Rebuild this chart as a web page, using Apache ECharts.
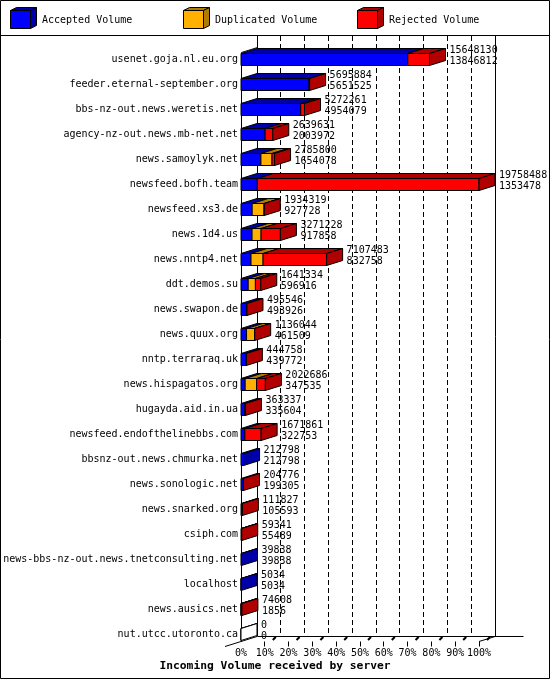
<!DOCTYPE html>
<html><head><meta charset="utf-8">
<script src="https://cdn.jsdelivr.net/npm/echarts@6.0.0/dist/echarts.min.js"></script>
<style>html,body{margin:0;padding:0;background:#fff}#c{width:550px;height:680px}</style>
</head><body><div id="c"></div><script>
const servers = ['usenet.goja.nl.eu.org','feeder.eternal-september.org','bbs-nz-out.news.weretis.net','agency-nz-out.news.mb-net.net','news.samoylyk.net','newsfeed.bofh.team','newsfeed.xs3.de','news.1d4.us','news.nntp4.net','ddt.demos.su','news.swapon.de','news.quux.org','nntp.terraraq.uk','news.hispagatos.org','hugayda.aid.in.ua','newsfeed.endofthelinebbs.com','bbsnz-out.news.chmurka.net','news.sonologic.net','news.snarked.org','csiph.com','news-bbs-nz-out.news.tnetconsulting.net','localhost','news.ausics.net','nut.utcc.utoronto.ca'];
const totalVolume = [15648130,5695884,5272261,2639631,2785800,19758488,1934319,3271228,7107483,1641334,495546,1136044,444758,2022686,363337,1671861,212798,204776,111827,59341,39838,5034,74608,0];
const acceptedVolume = [13846812,5651525,4954079,2003972,1654078,1353478,927728,917858,832758,596916,493926,461509,439772,347535,335604,322753,212798,199305,105593,55489,39838,5034,1856,0];
const duplicatedVolume = [0,0,0,0,920000,0,990000,750000,1000000,600000,0,660000,0,950000,0,0,0,0,0,0,0,0,0,0];
const rejectedVolume = [1801318,44359,318182,635659,211722,18405010,16591,1603370,5274725,444418,1620,14535,4986,725151,27733,1349108,0,5471,6234,3852,0,0,72752,0];
const tickLabels = ['0%','10%','20%','30%','40%','50%','60%','70%','80%','90%','100%'];
const seriesNames = ['Accepted Volume','Duplicated Volume','Rejected Volume'];
const frontColors = ['#0000ff','#ffb000','#ff0000'];
const darkColors = ['#0000a8','#b07c00','#b00000'];
const axisTitle = 'Incoming Volume received by server';

const FONT = '10px "DejaVu Sans Mono", monospace';
const DX = 16, DY = -5;
const maxTotal = Math.max.apply(null, totalVolume);
const interval = maxTotal / 10;
const segVals = [acceptedVolume, duplicatedVolume, rejectedVolume];

function lastIndex(i){
  if (rejectedVolume[i] > 0) return 2;
  if (duplicatedVolume[i] > 0) return 1;
  return 0;
}
function buildData(s){
  return servers.map(function(name, i){
    let start = 0;
    for (let k = 0; k < s; k++) start += segVals[k][i];
    const end = start + segVals[s][i];
    return [i, start, end, lastIndex(i) === s ? 1 : 0, totalVolume[i], acceptedVolume[i]];
  });
}
function makeRender(s){
  return function(params, api){
    const cat = api.value(0), v0 = api.value(1), v1 = api.value(2), last = api.value(3);
    const tot = api.value(4), acc = api.value(5);
    const a = api.coord([v0, cat]), b = api.coord([v1, cat]);
    const h = api.size([0, 1])[1] * 0.48;
    const cy = a[1], t = cy - h / 2, bt = cy + h / 2;
    const x0 = a[0], x1 = b[0];
    if (x1 - x0 <= 0 && !last) return null;
    const zero = tot === 0;
    const fc = zero ? '#fff' : frontColors[s];
    const dc = zero ? '#fff' : darkColors[s];
    const st = {stroke:'#000', lineWidth:1};
    const ch = [];
    ch.push({type:'rect', shape:{x:x0, y:t, width:Math.max(0, x1 - x0), height:h}, style:Object.assign({fill:fc}, st)});
    ch.push({type:'polygon', shape:{points:[[x0,t],[x1,t],[x1+DX,t+DY],[x0+DX,t+DY]]}, style:Object.assign({fill:dc}, st)});
    if (last) {
      ch.push({type:'polygon', shape:{points:[[x1,t],[x1+DX,t+DY],[x1+DX,bt+DY],[x1,bt]]}, style:Object.assign({fill:dc}, st)});
      ch.push({type:'text', style:{text:String(tot), x:x1+DX+4, y:cy-9, font:FONT, fill:'#000', verticalAlign:'middle', align:'left'}});
      ch.push({type:'text', style:{text:String(acc), x:x1+DX+4, y:cy+2, font:FONT, fill:'#000', verticalAlign:'middle', align:'left'}});
    }
    return {type:'group', children:ch};
  };
}

const chart = echarts.init(document.getElementById('c'), null, {renderer:'canvas'});
const option = {
  animation:false,
  backgroundColor:'#fff',
  grid:{left:241, right:71, top:47, height:600},
  xAxis:{type:'value', min:0, max:maxTotal, interval:interval,
    axisLine:{show:false}, axisTick:{show:false}, splitLine:{show:false},
    axisLabel:{margin:1, color:'#000', fontFamily:'DejaVu Sans Mono', fontSize:10,
      formatter:function(v){ return tickLabels[Math.round(v / interval)] || ''; }}},
  yAxis:{type:'category', data:servers, inverse:true,
    axisLine:{show:false}, axisTick:{show:false}, splitLine:{show:false},
    axisLabel:{margin:3, color:'#000', fontFamily:'DejaVu Sans Mono', fontSize:10}},
  series:seriesNames.map(function(n, s){
    return {type:'custom', name:n, z:5, renderItem:makeRender(s), data:buildData(s),
      encode:{x:[1,2], y:0}, clip:false};
  })
};
chart.setOption(option);

// frame, legend and title computed from the axes
const c5 = function(v){ return Math.round(v - 0.5) + 0.5; };
const xs = tickLabels.map(function(l, i){ return chart.convertToPixel({xAxisIndex:0}, interval * i); });
const firstC = chart.convertToPixel({yAxisIndex:0}, servers[0]);
const lastC = chart.convertToPixel({yAxisIndex:0}, servers[servers.length - 1]);
const baseY = c5(lastC + 7), topFront = c5(firstC - 7), backTop = 36;
const L = function(x1,y1,x2,y2,extra){
  return Object.assign({type:'line', z:1, shape:{x1:x1,y1:y1,x2:x2,y2:y2}, style:{stroke:'#000', lineWidth:1}}, extra || {});
};
const g = [];
g.push({type:'rect', z:0, shape:{x:0.5, y:0.5, width:549, height:678}, style:{fill:'none', stroke:'#000', lineWidth:1}});
g.push(L(0, 35.5, 550, 35.5));
xs.forEach(function(x, i){
  const bx = c5(x + DX);
  if (i === 0 || i === 10) g.push(L(bx, backTop, bx, baseY + DY));
  else g.push(L(bx, backTop, bx, baseY + DY, {style:{stroke:'#000', lineWidth:1, lineDash:[5,3]}}));
  if (i > 0) {
    g.push(L(c5(x), baseY, c5(x), baseY + 5));
    g.push(L(x + 8, baseY - 1.5, x + 11, baseY - 4.5, {style:{stroke:'#000', lineWidth:2}}));
  }
});
g.push(L(c5(xs[0] + DX), baseY + DY, c5(xs[10] + DX + 28), baseY + DY));
g.push(L(c5(xs[0]), topFront, c5(xs[0]), baseY));
g.push(L(c5(xs[0]), topFront, c5(xs[0] + DX), topFront + DY));
g.push(L(xs[0] - DX, baseY - DY, xs[0] + DX, baseY + DY));
g.push(L(xs[10], baseY, xs[10] + DX, baseY + DY));
// legend
const legX = [10, 183, 357];
seriesNames.forEach(function(n, k){
  const x = legX[k] + 0.5, y = 10.5;
  const st = {stroke:'#000', lineWidth:1};
  g.push({type:'polygon', z:2, shape:{points:[[x,y],[x+6,y-3],[x+26,y-3],[x+20,y]]}, style:Object.assign({fill:darkColors[k]}, st)});
  g.push({type:'polygon', z:2, shape:{points:[[x+20,y],[x+26,y-3],[x+26,y+15],[x+20,y+18]]}, style:Object.assign({fill:darkColors[k]}, st)});
  g.push({type:'rect', z:2, shape:{x:x, y:y, width:20, height:18}, style:Object.assign({fill:frontColors[k]}, st)});
  g.push({type:'text', z:2, style:{text:n, x:legX[k] + 32, y:20, font:FONT, fill:'#000', verticalAlign:'middle'}});
});
g.push({type:'text', z:2, style:{text:axisTitle, x:275, y:666, font:'bold 11.3px "DejaVu Sans Mono", monospace', fill:'#000', align:'center', verticalAlign:'middle'}});
chart.setOption({graphic:{elements:g}});
</script></body></html>
